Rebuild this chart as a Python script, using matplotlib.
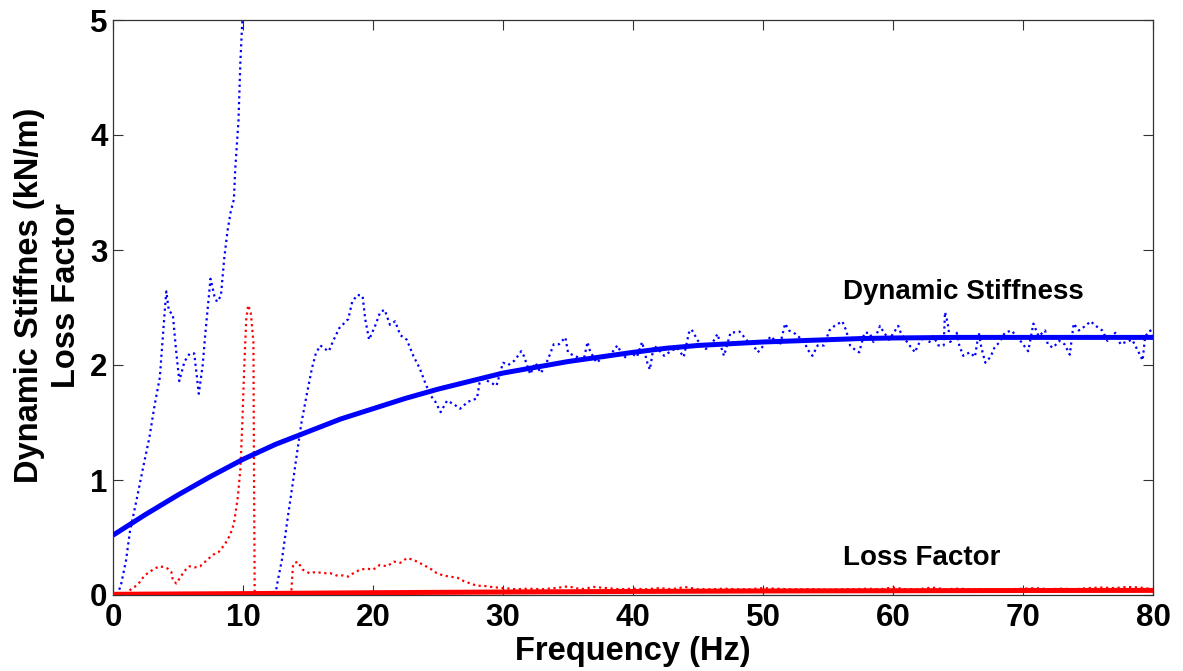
import numpy as np
import matplotlib
matplotlib.use("Agg")
import matplotlib.pyplot as plt

plt.rcParams['font.family'] = ['Liberation Sans', 'DejaVu Sans']

# ---- Data ----
# Smooth fit of dynamic stiffness (kN/m)
fit_freq = [0, 2.5, 5, 7.5, 10, 12.5, 15, 17.5, 20, 22.5, 25, 27.5, 30, 32.5, 35,
            37.5, 40, 42.5, 45, 47.5, 50, 52.5, 55, 57.5, 60, 65, 70, 75, 80]
fit_stiff = [0.52, 0.70, 0.87, 1.03, 1.18, 1.31, 1.42, 1.53, 1.62, 1.71, 1.79, 1.86,
             1.93, 1.98, 2.03, 2.07, 2.11, 2.145, 2.17, 2.185, 2.20, 2.21, 2.22,
             2.23, 2.235, 2.24, 2.24, 2.24, 2.24]

# Measured dynamic stiffness (dotted blue); NaN marks the break off-scale
meas_freq = [0.3, 0.6, 1.0, 1.3, 1.8, 2.3, 2.8, 3.2, 3.6, 3.8, 4.0, 4.1, 4.3, 4.6,
             4.85, 5.1, 5.5, 5.9, 6.25, 6.6, 6.9, 7.1, 7.5, 7.8, 8.0, 8.3, 8.55,
             8.8, 9.05, 9.3, 9.4, 9.65, 9.8, 9.95, 10.05, 11.0,
             12.5, 12.6, 13.0, 13.4, 13.8, 14.2, 14.5, 14.9, 15.3, 15.6, 15.95,
             16.3, 16.6, 16.9, 17.4, 18.1, 18.4, 18.8, 19.2, 19.4, 19.7, 20.2,
             20.55, 20.9, 21.3, 21.7, 22.1, 22.6, 23.1, 23.6, 24.0, 24.4, 24.8,
             25.2, 25.7, 26.2, 26.7, 27.3, 28.0, 28.2, 28.5, 29.0,
             29.5, 30.0, 30.4, 30.9, 31.4, 31.6, 32.1, 32.5, 32.9, 33.2, 33.6,
             33.9, 34.3, 34.8, 35.0, 35.3, 35.7, 36.2, 36.5, 36.7, 37.2, 37.5,
             37.9, 38.4, 38.8, 39.3, 39.8, 40.3, 40.7, 41.1, 41.3, 41.6, 41.9,
             42.4, 42.9, 43.4, 43.9, 44.3, 44.5, 44.7, 45.0, 45.6, 46.0, 46.5,
             46.9, 47.0, 47.5, 48.2, 48.8, 49.2, 49.6, 49.9, 50.6, 51.3, 51.7,
             52.0, 52.5, 53.2, 53.4, 53.8, 54.2, 54.7, 55.1, 55.5, 56.1, 56.4,
             56.7, 57.0, 57.4, 57.8, 58.2, 58.5, 59.0, 59.2, 59.7, 60.4, 60.6,
             61.2, 61.7, 61.9, 62.4, 62.8, 63.1, 63.5, 63.9, 64.0, 64.2, 64.4,
             64.9, 65.1, 65.4, 65.9, 66.3, 66.6, 66.8, 67.1, 67.5, 67.8, 68.2,
             68.6, 69.1, 69.6, 70.0, 70.4, 70.8, 71.2, 71.7, 71.9, 72.3, 72.8,
             73.2, 73.6, 73.9, 74.3, 74.8, 75.2, 75.6, 76.1, 76.5, 77.1, 77.5,
             77.9, 78.4, 78.9, 79.2, 79.4, 79.8, 80.0]
meas_stiff = [0.0, 0.08, 0.3, 0.55, 0.82, 1.1, 1.37, 1.65, 1.89, 2.2, 2.5, 2.64,
              2.47, 2.44, 2.13, 1.86, 2.03, 2.1, 2.1, 1.75, 2.0, 2.27, 2.75, 2.6,
              2.55, 2.6, 2.92, 3.16, 3.33, 3.44, 3.7, 4.12, 4.64, 5.0, 5.4, np.nan,
              0.0, 0.08, 0.31, 0.64, 0.95, 1.27, 1.5, 1.74, 1.97, 2.1, 2.17,
              2.14, 2.12, 2.2, 2.32, 2.4, 2.55, 2.61, 2.6, 2.4, 2.22, 2.35,
              2.46, 2.48, 2.35, 2.38, 2.26, 2.22, 2.08, 1.97, 1.85, 1.74, 1.68,
              1.59, 1.69, 1.66, 1.62, 1.68, 1.71, 1.85, 1.88, 1.85,
              1.82, 2.02, 2.0, 2.04, 2.12, 2.08, 1.92, 2.02, 1.93, 1.98, 2.09,
              2.18, 2.18, 2.24, 2.11, 2.09, 2.07, 2.04, 2.20, 2.12, 2.02, 2.05,
              2.07, 2.11, 2.17, 2.06, 2.11, 2.07, 2.20, 2.02, 1.96, 2.17, 2.14,
              2.08, 2.12, 2.15, 2.07, 2.28, 2.31, 2.27, 2.21, 2.14, 2.17, 2.27,
              2.11, 2.08, 2.28, 2.29, 2.21, 2.18, 2.11, 2.15, 2.25, 2.17, 2.36,
              2.30, 2.27, 2.20, 2.14, 2.08, 2.17, 2.17, 2.30, 2.34, 2.38, 2.30,
              2.17, 2.14, 2.11, 2.28, 2.28, 2.20, 2.34, 2.30, 2.22, 2.34, 2.28,
              2.18, 2.11, 2.17, 2.25, 2.20, 2.25, 2.17, 2.17, 2.46, 2.37, 2.20,
              2.28, 2.17, 2.08, 2.11, 2.07, 2.28, 2.15, 2.02, 2.07, 2.15, 2.20,
              2.28, 2.30, 2.24, 2.18, 2.12, 2.36, 2.25, 2.30, 2.18, 2.15, 2.21,
              2.18, 2.09, 2.36, 2.30, 2.34, 2.38, 2.34, 2.30, 2.21, 2.28, 2.18,
              2.20, 2.22, 2.11, 2.04, 2.25, 2.30, 2.24]

# Smooth fit of loss factor (solid red)
lf_fit_freq = [0, 10, 20, 30, 40, 50, 60, 70, 80]
lf_fit = [0.006, 0.012, 0.02, 0.026, 0.031, 0.035, 0.037, 0.039, 0.04]

# Measured loss factor (dotted red)
lf_freq = [1.27, 1.66, 2.04, 2.43, 2.8, 3.2, 3.6, 3.98, 4.2, 4.49, 4.6, 4.87, 5.1,
           5.5, 5.9, 6.3, 6.7, 7.19, 7.7, 8.1, 8.6, 9.0, 9.3, 9.6, 9.8, 9.95,
           10.1, 10.25, 10.4, 10.6, 10.8, 10.85, 10.9, 12.0, 13.7,
           13.74, 13.8, 13.86, 14.2, 14.6, 15.1, 15.6, 16.2, 16.7, 17.2, 17.7,
           18.1, 18.5, 19.0, 19.5, 20.0, 20.5, 21.1, 21.6, 22.1, 22.6, 23.0,
           23.4, 23.9, 24.4, 24.9, 25.4, 25.9, 26.5, 27.0, 27.5, 28.0, 28.5,
           29.1, 30, 31, 32, 33, 34, 35, 36, 37, 38, 39, 40, 41, 42, 43, 44,
           45, 46, 47, 48, 49, 50, 51, 52, 53, 54, 55, 56, 57, 58, 59, 60, 61,
           62, 63, 64, 65, 66, 67, 68, 69, 70, 71, 72, 73, 74, 75, 76, 77, 78,
           79, 80]
lf_meas = [0.04, 0.07, 0.11, 0.17, 0.2, 0.23, 0.25, 0.24, 0.23, 0.2, 0.13, 0.1,
           0.14, 0.21, 0.25, 0.24, 0.25, 0.30, 0.35, 0.37, 0.44, 0.52, 0.62,
           0.85, 1.1, 1.5, 2.0, 2.4, 2.52, 2.45, 2.2, 1.0, 0.0, 0.0, 0.0,
           0.07, 0.18, 0.27, 0.29, 0.22, 0.19, 0.2, 0.19, 0.19, 0.17, 0.17,
           0.16, 0.19, 0.22, 0.23, 0.22, 0.26, 0.25, 0.29, 0.28, 0.32, 0.31,
           0.29, 0.26, 0.23, 0.19, 0.17, 0.16, 0.15, 0.12, 0.1, 0.08, 0.08,
           0.07, 0.06, 0.05, 0.055, 0.05, 0.06, 0.075, 0.05, 0.07, 0.06, 0.05,
           0.055, 0.05, 0.06, 0.05, 0.07, 0.05, 0.05, 0.055, 0.05, 0.05, 0.06,
           0.055, 0.05, 0.05, 0.05, 0.045, 0.05, 0.05, 0.055, 0.05, 0.065,
           0.05, 0.05, 0.065, 0.05, 0.055, 0.05, 0.05, 0.05, 0.05, 0.055, 0.06,
           0.05, 0.055, 0.05, 0.06, 0.065, 0.06, 0.07, 0.065, 0.05]

x_ticks = [0, 10, 20, 30, 40, 50, 60, 70, 80]
y_ticks = [0, 1, 2, 3, 4, 5]

# ---- Figure ----
W, H = 1183, 671
fig = plt.figure(figsize=(W / 100, H / 100), dpi=100)
ax = fig.add_axes([113 / W, 1 - 595 / H, 1040 / W, 575 / H])

dot = (0, (1.0, 1.6))
ax.plot(meas_freq, meas_stiff, color=(0, 0, 1), lw=1.6, linestyle=dot, zorder=2)
ax.plot(lf_freq, lf_meas, color=(1, 0, 0), lw=1.6, linestyle=dot, zorder=2)
ax.plot(fit_freq, fit_stiff, color=(0, 0, 1), lw=3.6, solid_capstyle='butt', zorder=3)
ax.plot(lf_fit_freq, lf_fit, color=(1, 0, 0), lw=3.6, solid_capstyle='butt', zorder=3)

ax.set_xlim(0, 80)
ax.set_ylim(0, 5)
ax.set_xticks(x_ticks)
ax.set_yticks(y_ticks)
ax.set_xticklabels([str(v) for v in x_ticks], fontsize=22.5, fontweight='bold')
ax.set_yticklabels([str(v) for v in y_ticks], fontsize=22.5, fontweight='bold')
ax.tick_params(direction='in', length=7.5, width=0.8, top=True, right=True,
               color='#333333')
ax.tick_params(axis='x', pad=6)
ax.tick_params(axis='y', pad=4)
for s in ax.spines.values():
    s.set_linewidth(0.9)
    s.set_color('#333333')

ax.set_xlabel('Frequency (Hz)', fontsize=23.5, fontweight='bold', labelpad=2)
fig.text(48 / W, 1 - 295 / H, 'Dynamic Stiffnes (kN/m)\nLoss Factor',
         rotation=90, ha='center', va='center', multialignment='center',
         fontsize=23.5, fontweight='bold', linespacing=1.22)

ax.text(56.15, 2.57, 'Dynamic Stiffness', fontsize=20, fontweight='bold',
        ha='left', va='baseline')
ax.text(56.15, 0.26, 'Loss Factor', fontsize=20, fontweight='bold',
        ha='left', va='baseline')

fig.savefig('out.png', dpi=100)
